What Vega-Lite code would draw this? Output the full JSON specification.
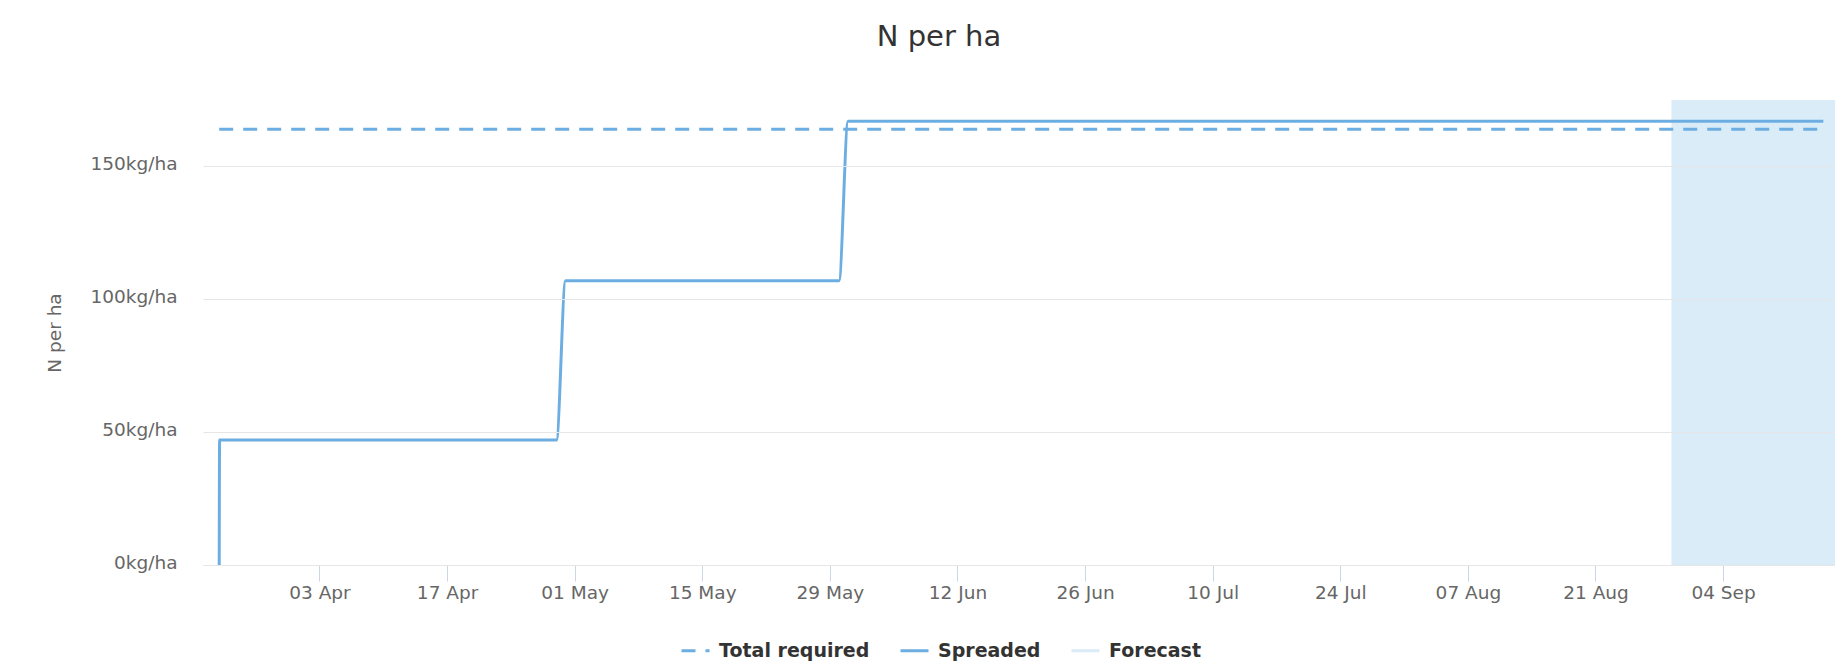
{
  "$schema": "https://vega.github.io/schema/vega-lite/v6.json",
  "width": 1632,
  "height": 465,
  "autosize": {"type": "none"},
  "padding": {"left": 203, "top": 100, "right": 0, "bottom": 99},
  "background": "white",
  "config": {"font": "DejaVu Sans", "view": {"stroke": null}},
  "title": {"text": "N per ha", "fontSize": 29, "fontWeight": "normal", "color": "#333333", "anchor": "middle", "frame": "group", "dx": -80, "baseline": "alphabetic", "offset": 25},
  "datasets": {
    "lines": [
      {"date": "2023-03-23T00:00:00Z", "value": 164, "series": "Total required"},
      {"date": "2023-09-15T00:00:00Z", "value": 164, "series": "Total required"},
      {"date": "2023-03-23T00:00:00Z", "value": 0, "series": "Spreaded"},
      {"date": "2023-03-23T01:00:00Z", "value": 47, "series": "Spreaded"},
      {"date": "2023-04-29T00:00:00Z", "value": 47, "series": "Spreaded"},
      {"date": "2023-04-30T00:00:00Z", "value": 107, "series": "Spreaded"},
      {"date": "2023-05-30T00:00:00Z", "value": 107, "series": "Spreaded"},
      {"date": "2023-05-31T00:00:00Z", "value": 167, "series": "Spreaded"},
      {"date": "2023-09-15T00:00:00Z", "value": 167, "series": "Spreaded"}
    ],
    "forecast": [
      {"start": "2023-08-29T08:00:00Z", "end": "2023-09-17T00:00:00Z", "series": "Forecast"}
    ]
  },
  "layer": [
    {
      "data": {"name": "forecast"},
      "mark": {"type": "rect", "clip": true, "opacity": 1},
      "encoding": {
        "x": {"field": "start", "type": "temporal",
          "scale": {"type": "utc", "domain": [{"year": 2023, "month": "Mar", "date": 21, "hours": 5, "minutes": 18, "utc": true}, {"year": 2023, "month": "Sep", "date": 16, "hours": 6, "minutes": 43, "utc": true}]},
          "axis": {
            "values": [
              {"year": 2023, "month": "Apr", "date": 3, "utc": true},
              {"year": 2023, "month": "Apr", "date": 17, "utc": true},
              {"year": 2023, "month": "May", "date": 1, "utc": true},
              {"year": 2023, "month": "May", "date": 15, "utc": true},
              {"year": 2023, "month": "May", "date": 29, "utc": true},
              {"year": 2023, "month": "Jun", "date": 12, "utc": true},
              {"year": 2023, "month": "Jun", "date": 26, "utc": true},
              {"year": 2023, "month": "Jul", "date": 10, "utc": true},
              {"year": 2023, "month": "Jul", "date": 24, "utc": true},
              {"year": 2023, "month": "Aug", "date": 7, "utc": true},
              {"year": 2023, "month": "Aug", "date": 21, "utc": true},
              {"year": 2023, "month": "Sep", "date": 4, "utc": true}
            ],
            "format": "%d %b", "title": null, "grid": false,
            "domainColor": "#ccd6eb", "tickColor": "#ccd6eb", "tickSize": 16,
            "labelPadding": 2, "labelFontSize": 18.5, "labelColor": "#666666"
          }
        },
        "x2": {"field": "end"},
        "color": {"field": "series", "type": "nominal",
          "scale": {"domain": ["Total required", "Spreaded", "Forecast"], "range": ["#6daee2", "#6daee2", "#d9ecf8"]},
          "legend": {
            "orient": "none", "legendX": 477, "legendY": 535, "direction": "horizontal", "title": null,
            "symbolType": "stroke", "symbolSize": 784, "symbolStrokeWidth": 3,
            "labelFontSize": 19, "labelFontWeight": "bold", "labelColor": "#333333", "labelOffset": 8,
            "columnPadding": 24, "padding": 0,
            "encode": {"symbols": {
              "update": {
                "stroke": [{"test": "datum.value === 'Forecast'", "value": "#d9ecf8"}, {"value": "#6daee2"}],
                "fill": {"value": "transparent"},
                "strokeDash": [{"test": "datum.value === 'Total required'", "value": [14, 10]}, {"value": [1, 0]}]
              }
            }}
          }
        }
      }
    },
    {
      "data": {"name": "lines"},
      "transform": [{"filter": "datum.series === 'Spreaded'"}],
      "mark": {"type": "line", "interpolate": "monotone", "strokeWidth": 3},
      "encoding": {
        "x": {"field": "date", "type": "temporal"},
        "y": {"field": "value", "type": "quantitative",
          "scale": {"domain": [0, 175], "nice": false},
          "axis": {"values": [0, 50, 100, 150], "labelExpr": "datum.value + 'kg/ha'", "domain": false, "ticks": false,
            "grid": true, "gridColor": "#e6e6e6", "zindex": 1, "labelPadding": 26, "labelOffset": -3,
            "labelFontSize": 18.5, "labelColor": "#666666",
            "title": "N per ha", "titleFontSize": 18.5, "titleFontWeight": "normal", "titleColor": "#666666", "titlePadding": 25}
        },
        "color": {"field": "series", "type": "nominal",
          "legend": {
            "orient": "none", "legendX": 477, "legendY": 535, "direction": "horizontal", "title": null,
            "symbolType": "stroke", "symbolSize": 784, "symbolStrokeWidth": 3,
            "labelFontSize": 19, "labelFontWeight": "bold", "labelColor": "#333333", "labelOffset": 8,
            "columnPadding": 24, "padding": 0,
            "encode": {"symbols": {
              "update": {
                "stroke": [{"test": "datum.value === 'Forecast'", "value": "#d9ecf8"}, {"value": "#6daee2"}],
                "fill": {"value": "transparent"},
                "strokeDash": [{"test": "datum.value === 'Total required'", "value": [14, 10]}, {"value": [1, 0]}]
              }
            }}
          }
        }
      }
    },
    {
      "data": {"name": "lines"},
      "transform": [{"filter": "datum.series === 'Total required'"}],
      "mark": {"type": "line", "strokeWidth": 3, "strokeDash": [14, 10]},
      "encoding": {
        "x": {"field": "date", "type": "temporal"},
        "y": {"field": "value", "type": "quantitative"},
        "color": {"field": "series", "type": "nominal",
          "legend": {
            "orient": "none", "legendX": 477, "legendY": 535, "direction": "horizontal", "title": null,
            "symbolType": "stroke", "symbolSize": 784, "symbolStrokeWidth": 3,
            "labelFontSize": 19, "labelFontWeight": "bold", "labelColor": "#333333", "labelOffset": 8,
            "columnPadding": 24, "padding": 0,
            "encode": {"symbols": {
              "update": {
                "stroke": [{"test": "datum.value === 'Forecast'", "value": "#d9ecf8"}, {"value": "#6daee2"}],
                "fill": {"value": "transparent"},
                "strokeDash": [{"test": "datum.value === 'Total required'", "value": [14, 10]}, {"value": [1, 0]}]
              }
            }}
          }
        }
      }
    }
  ]
}
